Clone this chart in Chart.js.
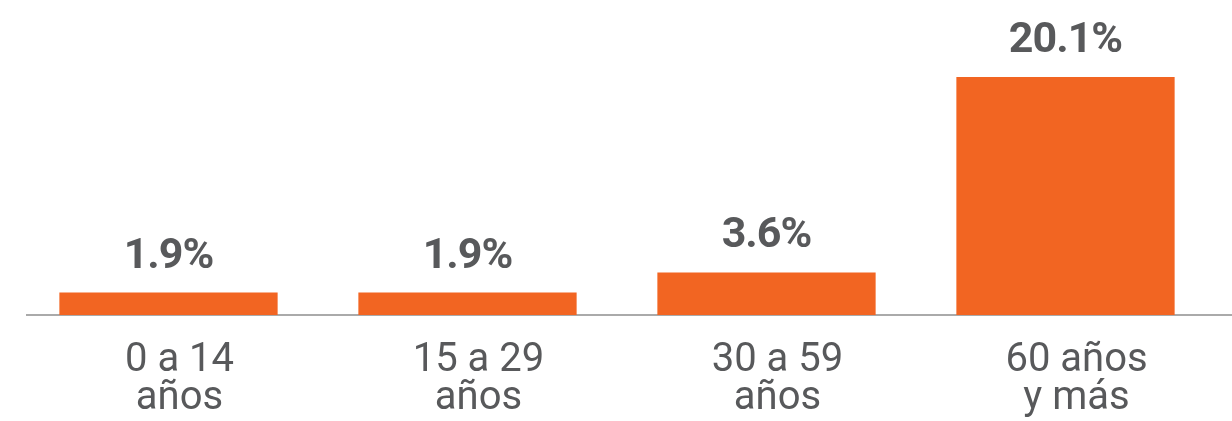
<!DOCTYPE html>
<html>
<head>
<meta charset="utf-8">
<script src="https://cdn.jsdelivr.net/npm/chart.js@4"></script>
<style>
  html, body { margin: 0; padding: 0; background: #fff; }
  #wrap { width: 1232px; height: 421px; position: relative; }
</style>
</head>
<body>
<div id="wrap"><canvas id="chart"></canvas></div>
<script>
const categories = [["0 a 14", "años"], ["15 a 29", "años"], ["30 a 59", "años"], ["60 años", "y más"]];
const values = [1.9, 1.9, 3.6, 20.1];
const valueLabels = ["1.9%", "1.9%", "3.6%", "20.1%"];

const textGray = "#58595b";

// value labels above each bar
const barLabels = {
    id: "barLabels",
    afterDatasetsDraw(chart) {
        const ctx = chart.ctx;
        const meta = chart.getDatasetMeta(0);
        ctx.save();
        ctx.font = "bold 43px Roboto";
        ctx.letterSpacing = "-1px";
        ctx.fillStyle = textGray;
        ctx.textAlign = "center";
        ctx.textBaseline = "alphabetic";
        meta.data.forEach((bar, i) => {
            ctx.fillText(valueLabels[i], bar.x, bar.y - 25);
        });
        ctx.restore();
    }
};

// gray baseline across the bottom of the bars
const baseLine = {
    id: "baseLine",
    beforeDatasetsDraw(chart) {
        const ctx = chart.ctx;
        const y = chart.chartArea.bottom;
        ctx.save();
        ctx.strokeStyle = "#aaaaaa";
        ctx.lineWidth = 2;
        ctx.beginPath();
        ctx.moveTo(26, y);
        ctx.lineTo(chart.width, y);
        ctx.stroke();
        ctx.restore();
    }
};

new Chart(document.getElementById("chart"), {
    type: "bar",
    data: {
        labels: categories,
        datasets: [{
            data: values,
            backgroundColor: "#f26522",
            categoryPercentage: 1,
            barPercentage: 0.73
        }]
    },
    options: {
        responsive: true,
        maintainAspectRatio: false,
        animation: false,
        layout: { padding: { left: 19, right: 17, top: 19, bottom: -16 } },
        plugins: {
            legend: { display: false },
            tooltip: { enabled: false }
        },
        scales: {
            x: {
                grid: { display: false },
                border: { display: false },
                ticks: {
                    color: textGray,
                    font: { family: "Roboto", size: 40, lineHeight: 0.95 },
                    padding: 19,
                    labelOffset: 11
                }
            },
            y: {
                display: false,
                min: 0,
                max: 25
            }
        }
    },
    plugins: [barLabels, baseLine]
});
</script>
</body>
</html>
